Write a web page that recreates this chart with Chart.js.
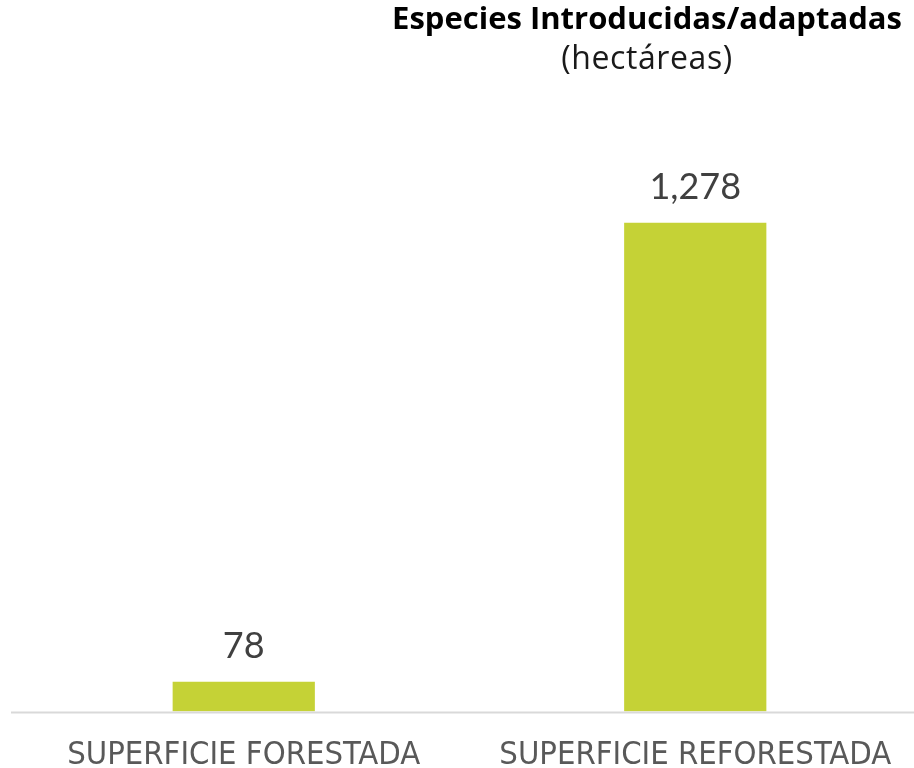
<!DOCTYPE html>
<html lang="es">
<head>
    <meta charset="UTF-8">
    <title>Especies Introducidas/adaptadas</title>
    <script src="https://cdn.jsdelivr.net/npm/chart.js"></script>
    <style>
        body {
            margin: 0;
            background: #fff;
            overflow: hidden;
            font-family: 'Open Sans', Lato, sans-serif;
        }
        .wrap {
            position: relative;
            width: 914px;
            height: 768px;
            overflow: hidden;
        }
        .chart-box {
            position: absolute;
            left: 0;
            top: 0;
            width: 921px;
            height: 800px;
        }
        .titles {
            position: absolute;
            left: 647px;
            top: 0;
            transform: translateX(-50%);
            text-align: center;
            white-space: nowrap;
            z-index: 2;
        }
        .titles .main {
            font-weight: bold;
            font-size: 31px;
            color: #000;
            line-height: 36px;
            margin-top: -1px;
        }
        .titles .sub {
            font-size: 32px;
            letter-spacing: 0.6px;
            color: #1a1a1a;
            line-height: 36px;
            margin-top: 4px;
        }
    </style>
</head>
<body>
    <div class="wrap">
        <div class="titles">
            <div class="main">Especies Introducidas/adaptadas</div>
            <div class="sub">(hectáreas)</div>
        </div>
        <div class="chart-box">
            <canvas id="chart" width="921" height="800"></canvas>
        </div>
    </div>

    <script>
        const categories = ['SUPERFICIE FORESTADA', 'SUPERFICIE REFORESTADA'];
        const hectareas = [78, 1278];

        // value labels above each bar
        const valueLabels = {
            id: 'valueLabels',
            afterDatasetsDraw(chart) {
                const ctx = chart.ctx;
                const meta = chart.getDatasetMeta(0);
                ctx.save();
                ctx.font = '36px Lato, sans-serif';
                ctx.fillStyle = '#404040';
                ctx.textAlign = 'center';
                ctx.textBaseline = 'bottom';
                meta.data.forEach((bar, i) => {
                    ctx.fillText(hectareas[i].toLocaleString('en-US'), bar.x, bar.y - 17);
                });
                ctx.restore();
            }
        };

        // baseline runs a bit further left than the plot area
        const baseLine = {
            id: 'baseLine',
            afterDraw(chart) {
                const ctx = chart.ctx;
                const y = chart.scales.y.getPixelForValue(0);
                ctx.save();
                ctx.strokeStyle = '#d9d9d9';
                ctx.lineWidth = 2;
                ctx.beginPath();
                ctx.moveTo(11, y + 1);
                ctx.lineTo(chart.chartArea.right, y + 1);
                ctx.stroke();
                ctx.restore();
            }
        };

        new Chart(document.getElementById('chart'), {
            type: 'bar',
            data: {
                labels: categories,
                datasets: [{
                    label: 'Hectáreas',
                    data: hectareas,
                    backgroundColor: '#c5d236',
                    barPercentage: 0.315,
                    categoryPercentage: 1
                }]
            },
            options: {
                responsive: false,
                animation: false,
                layout: {
                    padding: { left: 18, right: 0, top: 176, bottom: 0 }
                },
                plugins: {
                    legend: { display: false },
                    tooltip: { enabled: false }
                },
                scales: {
                    x: {
                        grid: { display: false, drawTicks: false },
                        border: { display: false },
                        ticks: {
                            color: '#595959',
                            padding: 28,
                            font: { family: "'DejaVu Sans Condensed', 'Liberation Sans Narrow', Lato, sans-serif", size: 32.5, lineHeight: 1 }
                        }
                    },
                    y: {
                        display: false,
                        min: 0,
                        max: 1400
                    }
                }
            },
            plugins: [valueLabels, baseLine]
        });
    </script>
</body>
</html>
